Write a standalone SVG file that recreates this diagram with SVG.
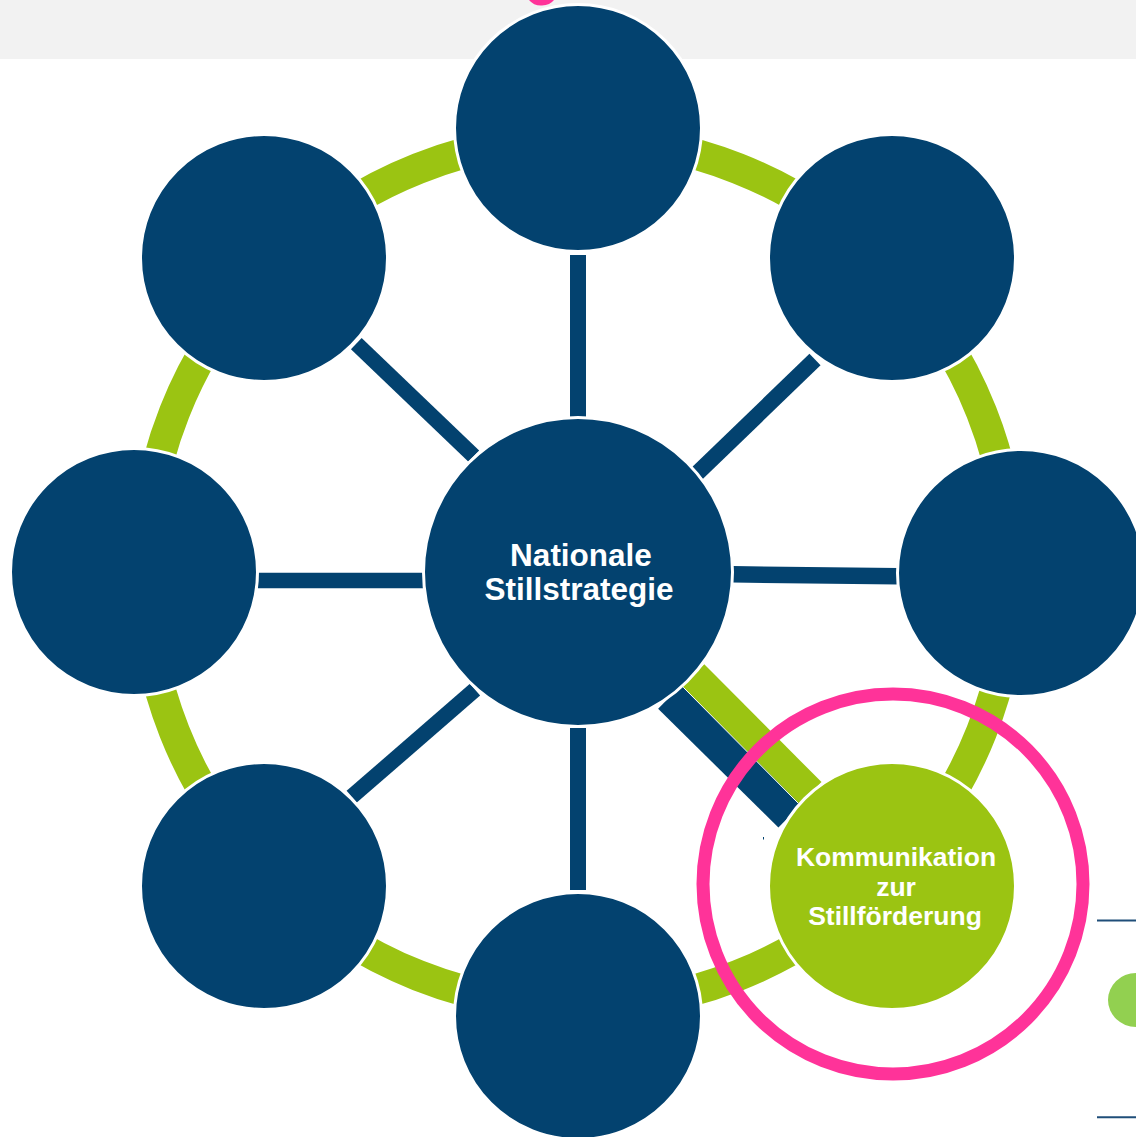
<svg xmlns="http://www.w3.org/2000/svg" width="1136" height="1137" viewBox="0 0 1136 1137">
  <style>
    .node { fill: #03426F; stroke: #FFFFFF; stroke-width: 3; }
    .gnode { fill: #9BC412; stroke: #FFFFFF; stroke-width: 3; }
    .conn { stroke: #03426F; fill: none; stroke-linecap: butt; }
    .ring { fill: none; stroke: #9BC412; stroke-width: 31; }
    .lbl { font-family: "Liberation Sans", Arial, sans-serif; font-weight: bold; fill: #FFFFFF; text-anchor: middle; }
    .rule { stroke: #1F4E79; stroke-width: 2; }
  </style>
  <rect x="0" y="0" width="1136" height="1137" fill="#FFFFFF"/>
  <rect id="header-band" x="0" y="0" width="1136" height="59" fill="#F2F2F2"/>
  <path id="pink-fragment" d="M529,0 Q534,6 542,5.5 Q550,5 554,0 Z" fill="#FF3399"/>

  <circle id="ring" class="ring" cx="578" cy="572" r="434"/>

  <g id="connectors">
    <line class="conn" stroke-width="16" x1="578" y1="255" x2="578" y2="417"/>
    <line class="conn" stroke-width="16" x1="578" y1="728" x2="578" y2="890"/>
    <line class="conn" stroke-width="15.5" x1="356.3" y1="343.7" x2="473.8" y2="456.2"/>
    <line class="conn" stroke-width="16" x1="815" y1="359.5" x2="697.2" y2="473.3"/>
    <line class="conn" stroke-width="15.7" x1="258" y1="580.5" x2="424" y2="580.5"/>
    <line class="conn" stroke-width="16.5" x1="732.7" y1="574.3" x2="898.3" y2="576.2"/>
    <line class="conn" stroke-width="15.6" x1="475" y1="689.7" x2="351.7" y2="796.7"/>
    <line class="conn" stroke-width="33" x1="669.7" y1="697" x2="790" y2="815.8"/>
    <line x1="693.3" y1="675.3" x2="810.5" y2="793" stroke="#9BC412" stroke-width="31"/>
    <line x1="683.3" y1="687.3" x2="798.3" y2="803.3" stroke="#FFFFFF" stroke-width="1"/>
    <rect x="763" y="837" width="1" height="2.5" fill="#03426F"/>
  </g>

  <g id="node-top"><circle class="node" cx="578" cy="128" r="123.5"/></g>
  <g id="node-top-right"><circle class="node" cx="892" cy="258" r="123.5"/></g>
  <g id="node-right"><circle class="node" cx="1021" cy="573" r="123.5"/></g>
  <g id="node-bottom"><circle class="node" cx="578" cy="1016" r="123.5"/></g>
  <g id="node-bottom-left"><circle class="node" cx="264" cy="886" r="123.5"/></g>
  <g id="node-left"><circle class="node" cx="134" cy="572" r="123.5"/></g>
  <g id="node-top-left"><circle class="node" cx="264" cy="258" r="123.5"/></g>

  <g id="node-center">
    <circle class="node" cx="578" cy="572" r="154.5"/>
    <text class="lbl" font-size="31.5" x="581" y="566">Nationale</text>
    <text class="lbl" font-size="31.5" x="579" y="600">Stillstrategie</text>
  </g>

  <g id="node-kommunikation">
    <circle class="gnode" cx="892" cy="886" r="123.5"/>
    <text class="lbl" font-size="26.5" x="896" y="866">Kommunikation</text>
    <text class="lbl" font-size="26.5" x="896" y="896">zur</text>
    <text class="lbl" font-size="26.5" x="895" y="925">Stillförderung</text>
  </g>

  <g id="highlight">
    <circle cx="893" cy="884" r="190" fill="none" stroke="#FF3399" stroke-width="13"/>
  </g>

  <g id="side-elements">
    <line class="rule" x1="1097" y1="920.5" x2="1136" y2="920.5"/>
    <ellipse cx="1136" cy="1000" rx="28" ry="27" fill="#92D050"/>
    <line class="rule" x1="1097" y1="1117.3" x2="1136" y2="1117.3"/>
  </g>
</svg>
